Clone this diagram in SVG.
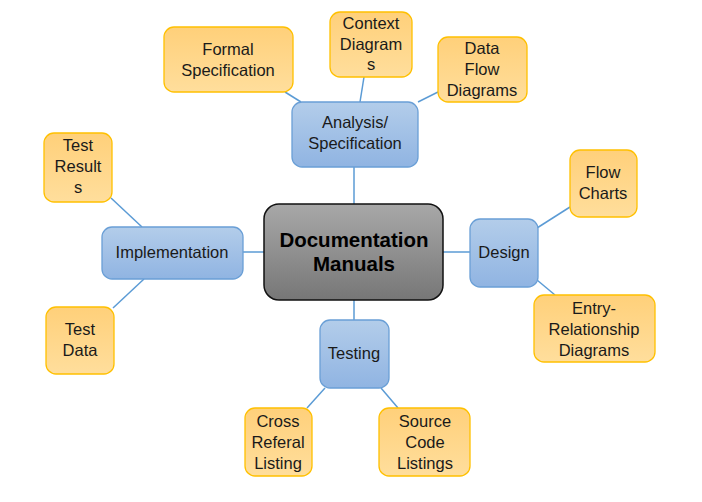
<svg xmlns="http://www.w3.org/2000/svg" width="702" height="502" viewBox="0 0 702 502">
<defs>
<linearGradient id="gy" x1="0" y1="0" x2="0" y2="1"><stop offset="0" stop-color="#FFD07A"/><stop offset="1" stop-color="#FFDE9C"/></linearGradient>
<linearGradient id="gb" x1="0" y1="0" x2="0" y2="1"><stop offset="0" stop-color="#B3CDEA"/><stop offset="1" stop-color="#90B4E2"/></linearGradient>
<linearGradient id="gg" x1="0" y1="0" x2="0" y2="1"><stop offset="0" stop-color="#A8A8A8"/><stop offset="1" stop-color="#777777"/></linearGradient>
<style>
.y{fill:url(#gy);stroke:#FFC000;stroke-width:1.3}
.b{fill:url(#gb);stroke:#6A9FD6;stroke-width:1.3}
.c{fill:url(#gg);stroke:#111;stroke-width:1.5}
text{font-family:"Liberation Sans",Arial,sans-serif;font-size:16.5px;fill:#1a1a1a;text-anchor:middle}
.t{font-size:20.5px;font-weight:bold;fill:#000}
#conn line{stroke:#5B9BD5;stroke-width:1.5}
</style>
</defs>
<rect width="702" height="502" fill="#fff"/>
<g id="conn">
<line x1="354" y1="167" x2="354" y2="204"/>
<line x1="243" y1="252" x2="264" y2="252"/>
<line x1="443" y1="252" x2="470" y2="252"/>
<line x1="354" y1="300" x2="354" y2="320"/>
<line x1="285" y1="92" x2="301" y2="102"/>
<line x1="364" y1="77" x2="360" y2="102"/>
<line x1="438" y1="92" x2="418" y2="102"/>
<line x1="111" y1="198" x2="142" y2="227"/>
<line x1="113" y1="308" x2="144" y2="279"/>
<line x1="537" y1="228" x2="570" y2="207"/>
<line x1="537" y1="280" x2="555" y2="295"/>
<line x1="325" y1="388" x2="307" y2="408"/>
<line x1="381" y1="388" x2="398" y2="408"/>
</g>
<g id="center"><rect class="c" x="264" y="204" width="179" height="96" rx="15"/><text class="t" x="354" y="247">Documentation</text><text class="t" x="354" y="271">Manuals</text></g>
<g id="analysis"><rect class="b" x="292" y="102" width="126" height="65" rx="10"/><text x="355" y="128">Analysis/</text><text x="355" y="149">Specification</text></g>
<g id="implementation"><rect class="b" x="102" y="227" width="141" height="52" rx="10"/><text x="172" y="258">Implementation</text></g>
<g id="design"><rect class="b" x="470" y="219" width="68" height="68" rx="10"/><text x="504" y="258">Design</text></g>
<g id="testing"><rect class="b" x="320" y="320" width="69" height="68" rx="10"/><text x="354" y="359">Testing</text></g>
<g id="formal"><rect class="y" x="164" y="27" width="129" height="65" rx="10"/><text x="228" y="55">Formal</text><text x="228" y="76">Specification</text></g>
<g id="context"><rect class="y" x="330" y="12" width="82" height="65" rx="10"/><text x="371" y="29">Context</text><text x="371" y="50">Diagram</text><text x="371" y="70">s</text></g>
<g id="dataflow"><rect class="y" x="438" y="37" width="89" height="65" rx="10"/><text x="482" y="54">Data</text><text x="482" y="75">Flow</text><text x="482" y="96">Diagrams</text></g>
<g id="testresults"><rect class="y" x="44" y="133" width="68" height="69" rx="10"/><text x="78" y="151">Test</text><text x="78" y="172">Result</text><text x="78" y="193">s</text></g>
<g id="testdata"><rect class="y" x="46" y="307" width="68" height="67" rx="10"/><text x="80" y="335">Test</text><text x="80" y="356">Data</text></g>
<g id="flowcharts"><rect class="y" x="570" y="150" width="67" height="67" rx="10"/><text x="603" y="178">Flow</text><text x="603" y="199">Charts</text></g>
<g id="er"><rect class="y" x="534" y="295" width="121" height="67" rx="10"/><text x="594" y="314">Entry-</text><text x="594" y="335">Relationship</text><text x="594" y="356">Diagrams</text></g>
<g id="cross"><rect class="y" x="245" y="408" width="67" height="68" rx="10"/><text x="278" y="427">Cross</text><text x="278" y="448">Referal</text><text x="278" y="469">Listing</text></g>
<g id="source"><rect class="y" x="379" y="408" width="91" height="68" rx="10"/><text x="425" y="427">Source</text><text x="425" y="448">Code</text><text x="425" y="469">Listings</text></g>
</svg>
